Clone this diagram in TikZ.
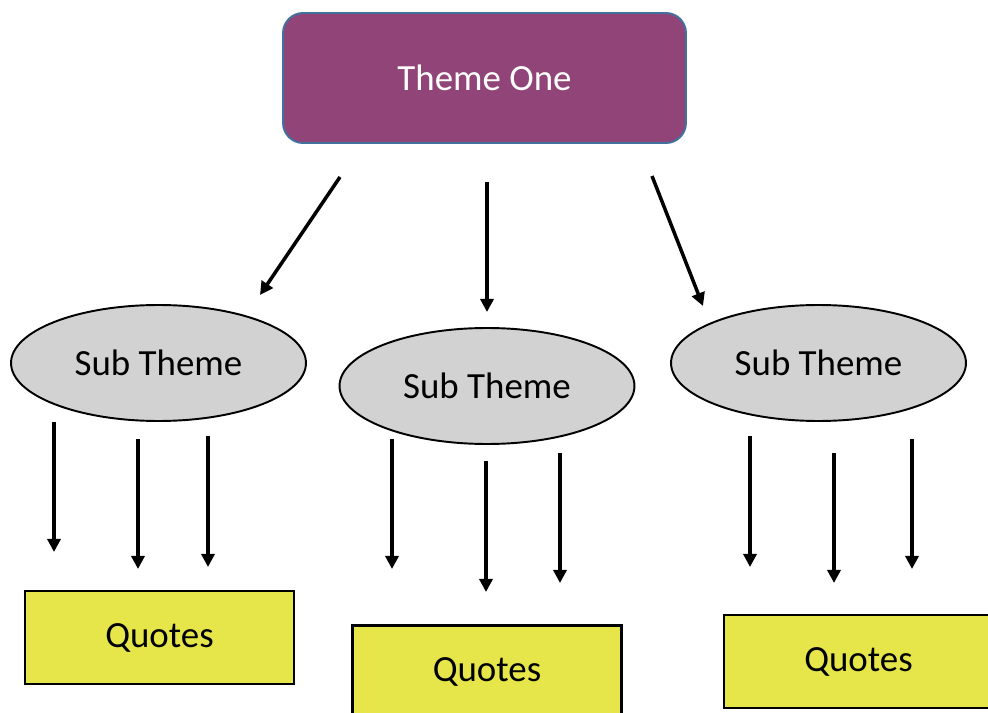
\documentclass[tikz,border=0pt]{standalone}
\usepackage{fontspec}
\setmainfont{Carlito}
\usepackage{xcolor}
\usetikzlibrary{positioning,shapes.geometric,arrows.meta}

\definecolor{plum}{HTML}{914478}
\definecolor{plumedge}{HTML}{41719C}
\definecolor{subgray}{HTML}{D1D2D1}
\definecolor{quoteyellow}{HTML}{E6E54A}

\begin{document}
\begin{tikzpicture}[x=0.02cm, y=-0.02cm,
                every node/.style={font=\fontsize{21}{25}\selectfont, inner sep=0pt},
                theme/.style={rectangle, rounded corners=0.4cm, draw=plumedge, line width=1.1pt, fill=plum, text=white, minimum width=8.06cm, minimum height=2.6cm},
                subtheme/.style={ellipse, draw=black, line width=1.1pt, fill=subgray, minimum width=5.9cm, minimum height=2.32cm},
                quotes/.style={rectangle, draw=black, line width=1.5pt, fill=quoteyellow, minimum width=5.38cm, minimum height=1.86cm},
                arrow/.style={-{Triangle[length=7.5pt,width=7.5pt]}, line width=2pt, black}
            ]
                \useasboundingbox (0,0) rectangle (988,713);

                \node[theme] (main) at (484.5,78) {\raisebox{-1.5pt}{Theme One}};

                \node[subtheme] (subleft) at (158.5,363) {\raisebox{-1.5pt}{Sub Theme}};
                \node[subtheme] (submid) at (487,386) {\raisebox{-1.5pt}{Sub Theme}};
                \node[subtheme] (subright) at (818.5,363) {\raisebox{-1.5pt}{Sub Theme}};

                \node[quotes] (quoteleft) at (159.5,637.5) {Quotes};
                \node[quotes] (quotemid) at (487,672) {Quotes};
                \node[quotes] (quoteright) at (858.5,661.5) {Quotes};

                % arrows from the theme
                \coordinate (tl) at (340,177);   \coordinate (tlend) at (260,295);
                \coordinate (tm) at (487,182);   \coordinate (tmend) at (487,312);
                \coordinate (tr) at (652,176);   \coordinate (trend) at (703,306);
                \draw[arrow] (tl) -- (tlend);
                \draw[arrow] (tm) -- (tmend);
                \draw[arrow] (tr) -- (trend);

                % arrows from the sub themes
                \coordinate (la) at (54,422);    \coordinate (laend) at (54,552);
                \coordinate (lb) at (138,439);   \coordinate (lbend) at (138,569);
                \coordinate (lc) at (208,436);   \coordinate (lcend) at (208,567);
                \coordinate (ma) at (392,439);   \coordinate (maend) at (392,569);
                \coordinate (mb) at (486,461);   \coordinate (mbend) at (486,592);
                \coordinate (mc) at (560,453);   \coordinate (mcend) at (560,583);
                \coordinate (ra) at (750,436);   \coordinate (raend) at (750,567);
                \coordinate (rb) at (834,453);   \coordinate (rbend) at (834,583);
                \coordinate (rc) at (912,439);   \coordinate (rcend) at (912,569);
                \draw[arrow] (la) -- (laend);
                \draw[arrow] (lb) -- (lbend);
                \draw[arrow] (lc) -- (lcend);
                \draw[arrow] (ma) -- (maend);
                \draw[arrow] (mb) -- (mbend);
                \draw[arrow] (mc) -- (mcend);
                \draw[arrow] (ra) -- (raend);
                \draw[arrow] (rb) -- (rbend);
                \draw[arrow] (rc) -- (rcend);
            \end{tikzpicture}
\end{document}
